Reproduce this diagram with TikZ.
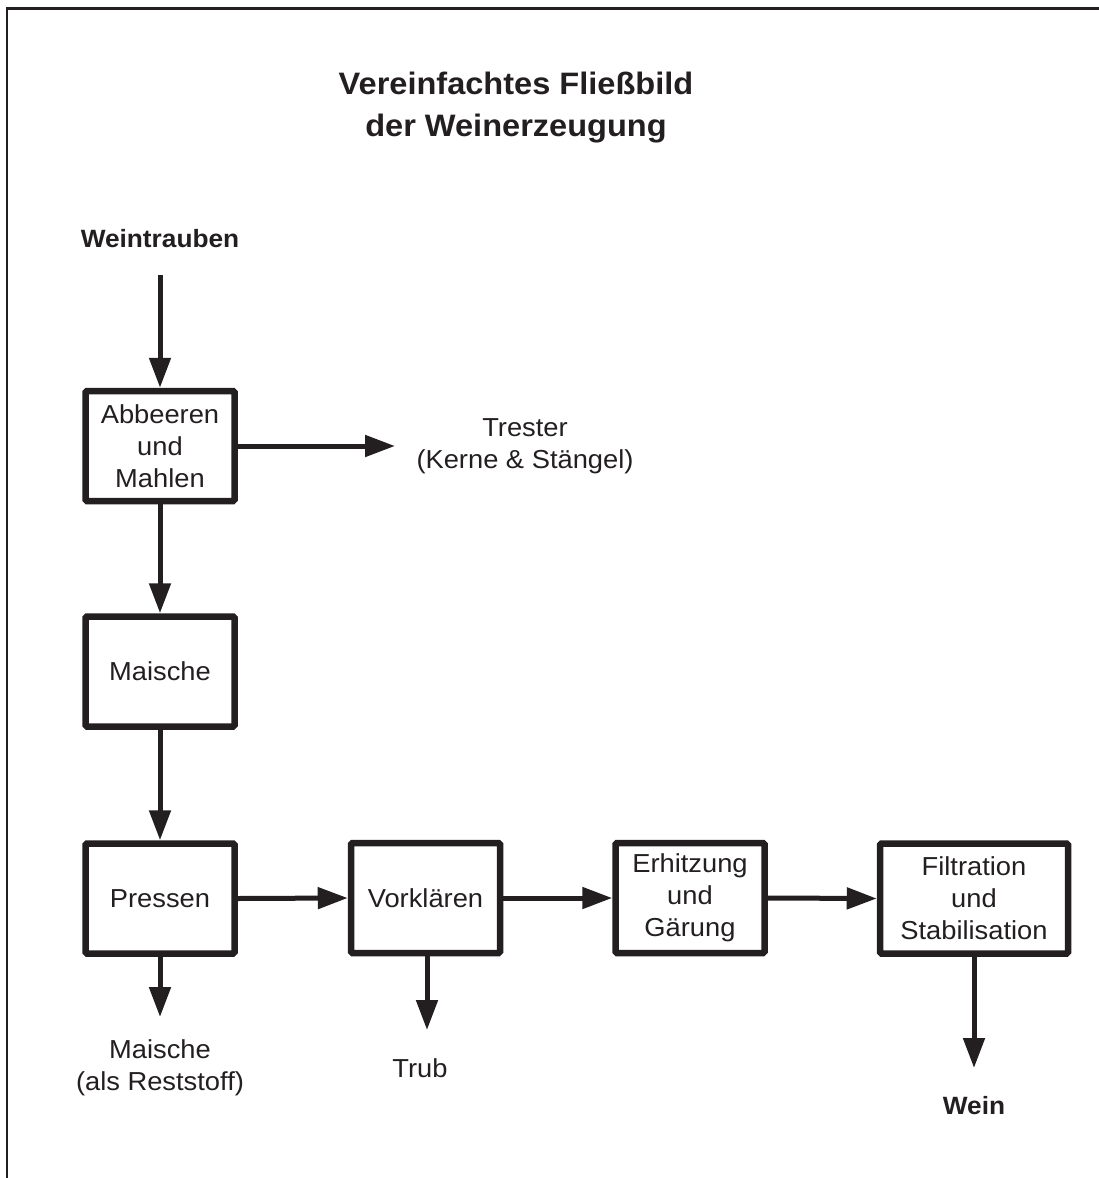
\documentclass[tikz,border=0pt]{standalone}
\usepackage{fontspec}
\setmainfont{Liberation Sans}[FakeStretch=1.05]
\usetikzlibrary{arrows.meta}
\definecolor{ink}{HTML}{231F20}
\newcommand{\boxfont}{\fontsize{26}{32}\selectfont}
\newcommand{\headfont}{\bfseries\fontsize{31}{42}\selectfont}
\newcommand{\termfont}{\bfseries\fontsize{25}{30}\selectfont}
\begin{document}
\begin{tikzpicture}[x=1pt,y=-1pt,
  proc/.style={draw=ink, line width=6.5pt, minimum width=149pt, minimum height=110pt,
    inner sep=0pt, align=center, font=\boxfont, text=ink, rounded corners=1.5pt},
  flow/.style={draw=ink, line width=5pt, -{Triangle[length=30pt,width=21pt]}},
  lbl/.style={text=ink, align=center, font=\boxfont, inner sep=0pt},
  endlbl/.style={text=ink, align=center, font=\termfont, inner sep=0pt}]
\useasboundingbox (0,0) rectangle (1099,1178);
% frame
\draw[ink, line width=2.5pt] (7,1178) -- (7,8.5) -- (1099,8.5);

% title
\node[text=ink, align=center, font=\headfont, inner sep=0pt] (title) at (516,108)
  {Vereinfachtes Flie\ss bild\\der Weinerzeugung};

% input and outputs
\node[endlbl] (in) at (160,239) {Weintrauben};
\coordinate (inEnd) at (160,275);
\node[lbl] (trester) at (525,446) {Trester\\(Kerne \& Stängel)};
\coordinate (tresterTip) at (395,446);

% process steps
\node[proc] (abb) at (160,446) {Abbeeren\\und\\Mahlen};
\node[proc] (mai) at (160,671.5) {Maische};
\node[proc] (pre) at (160,898.5) {Pressen};
\node[proc] (vor) at (425.5,898) {Vorklären};
\node[proc] (erh) at (690,898) {Erhitzung\\und\\Gärung};
\node[proc, minimum width=188pt] (fil) at (974,898.5) {Filtration\\und\\Stabilisation};

% residues and product
\node[lbl] (rest) at (160,1068) {Maische\\(als Reststoff)};
\coordinate (restTip) at (160,1017);
\node[lbl] (trub) at (420,1068) {Trub};
\coordinate (trubTip) at (427,1030);
\node[endlbl] (wein) at (974,1106) {Wein};
\coordinate (weinTip) at (974,1068);

% flows
\draw[flow] (inEnd) -- (abb.north);
\draw[flow] (abb.east) -- (tresterTip);
\draw[flow] (abb.south) -- (mai.north);
\draw[flow] (mai.south) -- (pre.north);
\draw[flow] (pre.east) -- (vor.west);
\draw[flow] (vor.east) -- (erh.west);
\draw[flow] (erh.east) -- (fil.west);
\draw[flow] (pre.south) -- (restTip);
\draw[flow] (vor.south -| trubTip) -- (trubTip);
\draw[flow] (fil.south) -- (weinTip);
\end{tikzpicture}
\end{document}
